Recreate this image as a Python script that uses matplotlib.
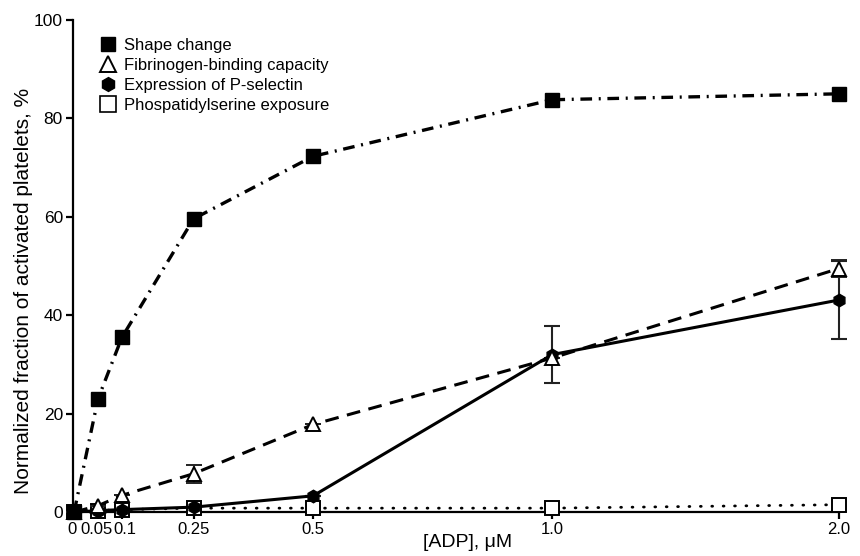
import numpy as np
import matplotlib
matplotlib.use('Agg')
import matplotlib.pyplot as plt
import matplotlib.transforms as mtransforms
from matplotlib.lines import Line2D

plt.rcParams.update({
    'font.family': ['Liberation Sans', 'DejaVu Sans'],
    'font.size': 12,
    'axes.spines.top': False, 'axes.spines.right': False,
})

# ── data ──────────────────────────────────────────────────────────────────────
adp = [0, 0.05, 0.1, 0.25, 0.5, 1.0, 2.0]
xtick_labels = ['0', '0.05', '0.1', '0.25', '0.5', '1.0', '2.0']

shape_change = [0, 23.0, 35.5, 59.6, 72.3, 83.8, 85.0]
fibrinogen = [0, 1.3, 3.4, 7.8, 17.8, 31.3, 49.5]
fibrinogen_err = [0, 0, 0, 1.8, 0, 0, 1.7]
p_selectin = [0, 0.3, 0.5, 1.0, 3.3, 32.0, 43.1]
p_selectin_err = [0, 0, 0, 0, 0, 5.8, 8.0]
ps_exposure = [0, 0.3, 0.5, 0.8, 0.8, 0.8, 1.5]

# segmented x axis: 0-1 at full width per unit, 1-2 compressed to 0.6
SEG_RATIO = 0.6


def fwd(x):
    x = np.asarray(x, dtype=float)
    return np.where(x <= 1.0, x, 1.0 + (x - 1.0) * SEG_RATIO)


def inv(y):
    y = np.asarray(y, dtype=float)
    return np.where(y <= 1.0, y, 1.0 + (y - 1.0) / SEG_RATIO)


fig = plt.figure(figsize=(8.6, 5.56), dpi=100)
ax = fig.add_axes([0.0845, 0.079, 0.891, 0.885])
ax.set_xscale('function', functions=(fwd, inv))

K = 'black'
ax.plot(adp, ps_exposure, color=K, lw=2.0, ls=(0, (0.3, 3.8)),
        dash_capstyle='round', marker='s', ms=10, mfc='white', mec=K, mew=1.4,
        zorder=3, clip_on=False)
ax.errorbar(adp, p_selectin, yerr=p_selectin_err, color=K, lw=2.2, ls='-',
            marker='h', ms=9, mfc=K, mec=K, ecolor='#222222', elinewidth=1.5,
            capsize=6, capthick=1.5, zorder=4, clip_on=False)
ax.errorbar(adp, fibrinogen, yerr=fibrinogen_err, color=K, lw=2.2, ls=(0, (4.5, 2.8)),
            marker='^', ms=10, mfc='white', mec=K, mew=1.4, ecolor='#222222',
            elinewidth=1.5, capsize=6, capthick=1.5, zorder=4, clip_on=False)
ax.plot(adp, shape_change, color=K, lw=2.4, ls=(0, (3.5, 2.0, 0.6, 2.0)),
        marker='s', ms=10, mfc=K, mec=K, zorder=5, clip_on=False)

ax.set_xlim(-0.003, 2.0)
ax.set_ylim(0, 100)
ax.set_xticks(adp)
ax.set_xticklabels(xtick_labels)
ax.set_yticks([0, 20, 40, 60, 80, 100])
ax.minorticks_off()
for s in ('left', 'bottom'):
    ax.spines[s].set_linewidth(1.6)
ax.tick_params(width=1.6, length=5, labelsize=12, pad=2)
ax.tick_params(axis='y', labelsize=12.5)

# crowded labels near zero: spread them a little (offsets in points)
nudges = {'0': -1.5, '0.05': -1.2, '0.1': 2.0}
for lbl in ax.get_xticklabels():
    dx = nudges.get(lbl.get_text())
    if dx:
        lbl.set_transform(lbl.get_transform() +
                          mtransforms.ScaledTranslation(dx / 72, 0, fig.dpi_scale_trans))

ax.set_xlabel('[ADP], μM', fontsize=14, labelpad=1)
ax.xaxis.set_label_coords(0.515, -0.045)
ax.set_ylabel('Normalized fraction of activated platelets, %', fontsize=15)
ax.yaxis.set_label_coords(-0.052, 0.45)

handles = [
    Line2D([0], [0], ls='none', marker='s', ms=10, mfc=K, mec=K, label='Shape change'),
    Line2D([0], [0], ls='none', marker='^', ms=11, mfc='white', mec=K, mew=1.4,
           label='Fibrinogen-binding capacity'),
    Line2D([0], [0], ls='none', marker='h', ms=10, mfc=K, mec=K,
           label='Expression of P-selectin'),
    Line2D([0], [0], ls='none', marker='s', ms=11, mfc='white', mec=K, mew=1.2,
           label='Phospatidylserine exposure'),
]
ax.legend(handles=handles, loc='upper left', bbox_to_anchor=(0.025, 0.978),
          frameon=False, fontsize=12, handletextpad=0.45, labelspacing=0.3,
          handlelength=1.1, borderaxespad=0)

fig.savefig('out.png', dpi=100)
